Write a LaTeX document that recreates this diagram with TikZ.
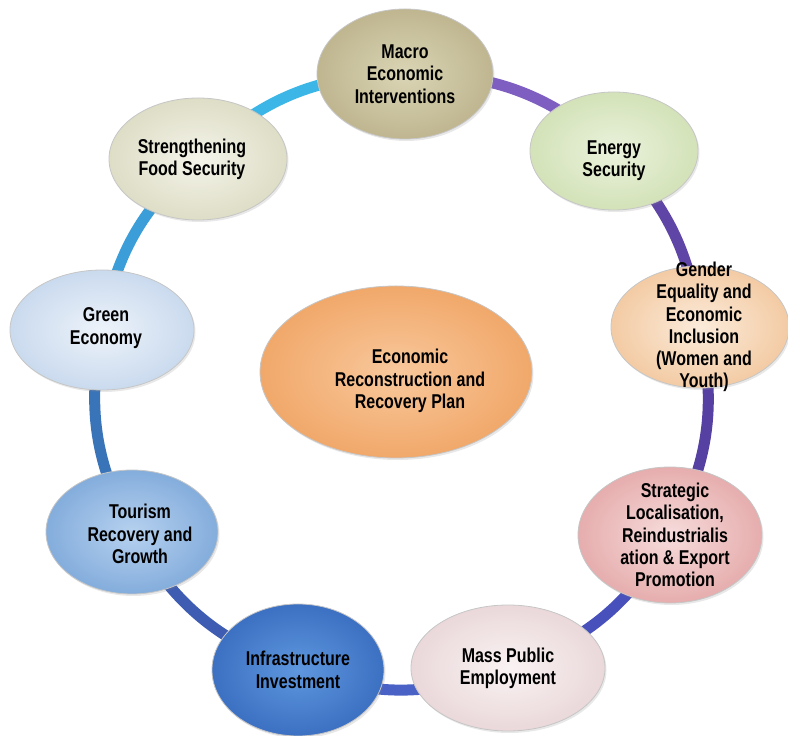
\documentclass[tikz,border=0pt]{standalone}
\usepackage{fontspec}
\setmainfont{Liberation Sans}[FakeStretch=0.8]
\usetikzlibrary{shapes.geometric,backgrounds,shadows}
\definecolor{cMacroI}{HTML}{DAD5B5}\definecolor{cMacroO}{HTML}{BFB690}
\definecolor{cEnerI}{HTML}{EAF2DC}\definecolor{cEnerO}{HTML}{D3E2B8}
\definecolor{cGendI}{HTML}{FBEBDA}\definecolor{cGendO}{HTML}{F3CBA4}
\definecolor{cStratI}{HTML}{F7DCDC}\definecolor{cStratO}{HTML}{E6ADAD}
\definecolor{cMassI}{HTML}{FAF3F3}\definecolor{cMassO}{HTML}{EAD8DA}
\definecolor{cInfraI}{HTML}{5E97DE}\definecolor{cInfraO}{HTML}{3C70C2}
\definecolor{cTourI}{HTML}{B6D1EF}\definecolor{cTourO}{HTML}{84ADDC}
\definecolor{cGreenI}{HTML}{EDF3FA}\definecolor{cGreenO}{HTML}{CADAEE}
\definecolor{cStrI}{HTML}{F4F4EA}\definecolor{cStrO}{HTML}{DEDDC6}
\definecolor{cCenI}{HTML}{F8C89C}\definecolor{cCenO}{HTML}{F1A86A}
\definecolor{r1}{HTML}{7E5EC0}\definecolor{r2}{HTML}{5E45A6}
\definecolor{r3}{HTML}{5640A2}\definecolor{r4}{HTML}{4850BC}
\definecolor{r5}{HTML}{4A62C6}\definecolor{r6}{HTML}{3E5CB2}
\definecolor{r7}{HTML}{3A74B8}\definecolor{r8}{HTML}{3C9ED8}
\definecolor{r9}{HTML}{3CB6E6}
\begin{document}
\begin{tikzpicture}[x=1pt,y=1pt,
  bubble/.style={ellipse, inner sep=0pt, draw=gray!45, line width=0.8pt,
    drop shadow={opacity=0.18, shadow xshift=1.5pt, shadow yshift=-2pt}},
  lbl/.style={align=center, inner sep=0pt, text=black,
    font=\fontsize{20}{22.3}\selectfont\bfseries},
  ring/.style={line width=11pt, line cap=round}]
\useasboundingbox (0,0) rectangle (788,736);
\node[bubble, minimum width=176pt, minimum height=130pt, inner color=cMacroI, outer color=cMacroO,
  label={[lbl]center:Macro\\Economic\\Interventions}] (macro) at (405,662) {};
\node[bubble, minimum width=168pt, minimum height=118pt, inner color=cEnerI, outer color=cEnerO,
  label={[lbl, yshift=-10pt]center:Energy\\Security}] (energy) at (614,585) {};
\node[bubble, minimum width=178pt, minimum height=122pt, inner color=cGendI, outer color=cGendO,
  label={[lbl, xshift=4pt]center:Gender\\Equality and\\Economic\\Inclusion\\(Women and\\Youth)}] (gender) at (700,409) {};
\node[bubble, minimum width=184pt, minimum height=136pt, inner color=cStratI, outer color=cStratO,
  label={[lbl, xshift=5pt]center:Strategic\\Localisation,\\Reindustrialis\\ation \& Export\\Promotion}] (strat) at (670,201) {};
\node[bubble, minimum width=194pt, minimum height=126pt, inner color=cMassI, outer color=cMassO,
  label={[lbl]center:Mass Public\\Employment}] (mass) at (508,68) {};
\node[bubble, minimum width=172pt, minimum height=132pt, inner color=cInfraI, outer color=cInfraO,
  label={[lbl]center:Infrastructure\\Investment}] (infra) at (298,66) {};
\node[bubble, minimum width=172pt, minimum height=124pt, inner color=cTourI, outer color=cTourO,
  label={[lbl, xshift=8pt, yshift=-2pt]center:Tourism\\Recovery and\\Growth}] (tour) at (132,204) {};
\node[bubble, minimum width=184pt, minimum height=120pt, inner color=cGreenI, outer color=cGreenO,
  label={[lbl, xshift=4pt, yshift=2pt]center:Green\\Economy}] (green) at (102,406) {};
\node[bubble, minimum width=178pt, minimum height=122pt, inner color=cStrI, outer color=cStrO,
  label={[lbl, xshift=-6pt]center:Strengthening\\Food Security}] (food) at (198,577) {};
\node[bubble, minimum width=272pt, minimum height=172pt, inner color=cCenI, outer color=cCenO,
  label={[lbl, xshift=14pt, yshift=-9pt]center:Economic\\Reconstruction and\\Recovery Plan}] (center) at (396,364) {};
\begin{pgfonlayer}{background}
\draw[ring, r1] (macro.center) to[bend left=21] (energy.center);
\draw[ring, r2] (energy.center) to[bend left=18] (gender.center);
\draw[ring, r3] (gender.center) to[bend left=20] (strat.center);
\draw[ring, r4] (strat.center) to[bend left=20] (mass.center);
\draw[ring, r5] (mass.center) to[bend left=20] (infra.center);
\draw[ring, r6] (infra.center) to[bend left=20] (tour.center);
\draw[ring, r7] (tour.center) to[bend left=19.5] (green.center);
\draw[ring, r8] (green.center) to[bend left=19] (food.center);
\draw[ring, r9] (food.center) to[bend left=21.5] (macro.center);
\end{pgfonlayer}
\end{tikzpicture}
\end{document}
